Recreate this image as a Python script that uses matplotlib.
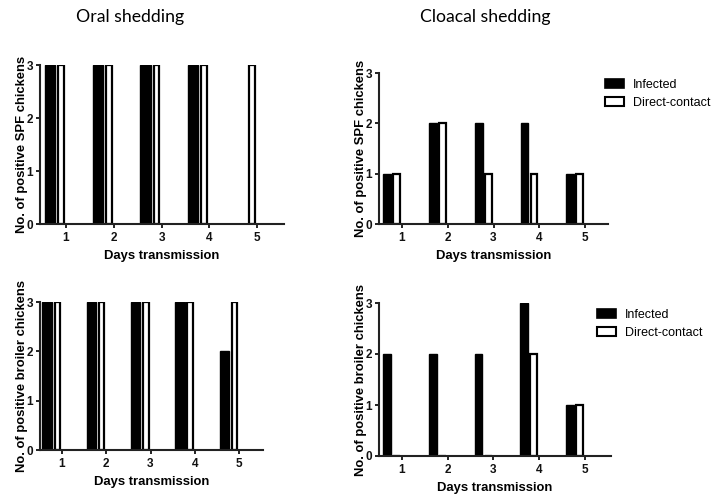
import matplotlib
matplotlib.use("Agg")
import matplotlib.pyplot as plt
from matplotlib.patches import Patch
import numpy as np

days = [1, 2, 3, 4, 5]
day_labels = ["1", "2", "3", "4", "5"]
y_ticks = [0, 1, 2, 3]

oral_spf_infected = [3, 3, 3, 3, 0]
oral_spf_contact = [3, 3, 3, 3, 3]
cloacal_spf_infected = [1, 2, 2, 2, 1]
cloacal_spf_contact = [1, 2, 1, 1, 1]
oral_broiler_infected = [3, 3, 3, 3, 2]
oral_broiler_contact = [3, 3, 3, 3, 3]
cloacal_broiler_infected = [2, 2, 2, 3, 1]
cloacal_broiler_contact = [0, 0, 0, 2, 1]

W, H = 719, 498
fig = plt.figure(figsize=(W / 100, H / 100), dpi=100)

def ax_at(x0, x1, ytop, ybot):
    return fig.add_axes([x0 / W, 1 - ybot / H, (x1 - x0) / W, (ybot - ytop) / H])

axes_specs = [
    ((40, 284, 65, 224), (0.46, 5.56), oral_spf_infected, oral_spf_contact,
     "No. of positive SPF chickens", True, None),
    ((379, 608, 73, 224), (0.50, 5.50), cloacal_spf_infected, cloacal_spf_contact,
     "No. of positive SPF chickens", False, (605, 83)),
    ((40, 263, 302, 450), (0.505, 5.54), oral_broiler_infected, oral_broiler_contact,
     "No. of positive broiler chickens", True, None),
    ((379, 611, 303, 456), (0.50, 5.57), cloacal_broiler_infected, cloacal_broiler_contact,
     "No. of positive broiler chickens", False, (597, 313)),
]

x = np.array(days, dtype=float)
for box, xlim, inf, con, ylab, oral, leg in axes_specs:
    ax = ax_at(*box)
    if oral:
        ax.bar(x - 0.335, inf, width=0.21, color="black", edgecolor="black", linewidth=1.0)
        ax.bar(x - 0.105, con, width=0.12, color="white", edgecolor="black", linewidth=1.6)
    else:
        ax.bar(x - 0.325, inf, width=0.17, color="black", edgecolor="black", linewidth=1.0)
        ax.bar(x - 0.115, con, width=0.15, color="white", edgecolor="black", linewidth=1.6)
    ax.set_xlim(*xlim)
    ax.set_ylim(0, 3)
    ax.set_xticks(days)
    ax.set_xticklabels(day_labels)
    ax.set_yticks(y_ticks)
    for s in ["top", "right"]:
        ax.spines[s].set_visible(False)
    for s in ["left", "bottom"]:
        ax.spines[s].set_linewidth(1.5)
        ax.spines[s].set_color("#222222")
    ax.tick_params(axis="both", direction="out", length=3, width=1.3, pad=2,
                   labelsize=8.5, colors="#111111")
    ax.tick_params(axis="x", pad=3)
    for lbl in ax.get_xticklabels() + ax.get_yticklabels():
        lbl.set_fontweight("bold")
        lbl.set_fontfamily("Liberation Sans")
    ax.set_xlabel("Days transmission", fontsize=9.4, fontweight="bold",
                  family="Liberation Sans", labelpad=4)
    ax.set_ylabel(ylab, fontsize=9.4, fontweight="bold", family="Liberation Sans",
                  labelpad=-1)
    if leg is not None:
        handles = [Patch(facecolor="black", edgecolor="black", linewidth=1.2, label="Infected"),
                   Patch(facecolor="white", edgecolor="black", linewidth=1.5, label="Direct-contact")]
        lx, ly = leg
        ax.legend(handles=handles, loc="upper left",
                  bbox_to_anchor=(lx / W, 1 - (ly - 4) / H),
                  bbox_transform=fig.transFigure,
                  frameon=False, prop={"family": "Liberation Sans", "size": 9},
                  handlelength=1.5, handleheight=0.7, handletextpad=0.7,
                  labelspacing=0.45, borderaxespad=0.0, borderpad=0.0)

fig.text(130 / W, 1 - 17 / H, "Oral shedding", ha="center", va="center",
         fontsize=12.7, family="Lato")
fig.text(485 / W, 1 - 17 / H, "Cloacal shedding", ha="center", va="center",
         fontsize=12.7, family="Lato")

fig.savefig("out.png", dpi=100)
